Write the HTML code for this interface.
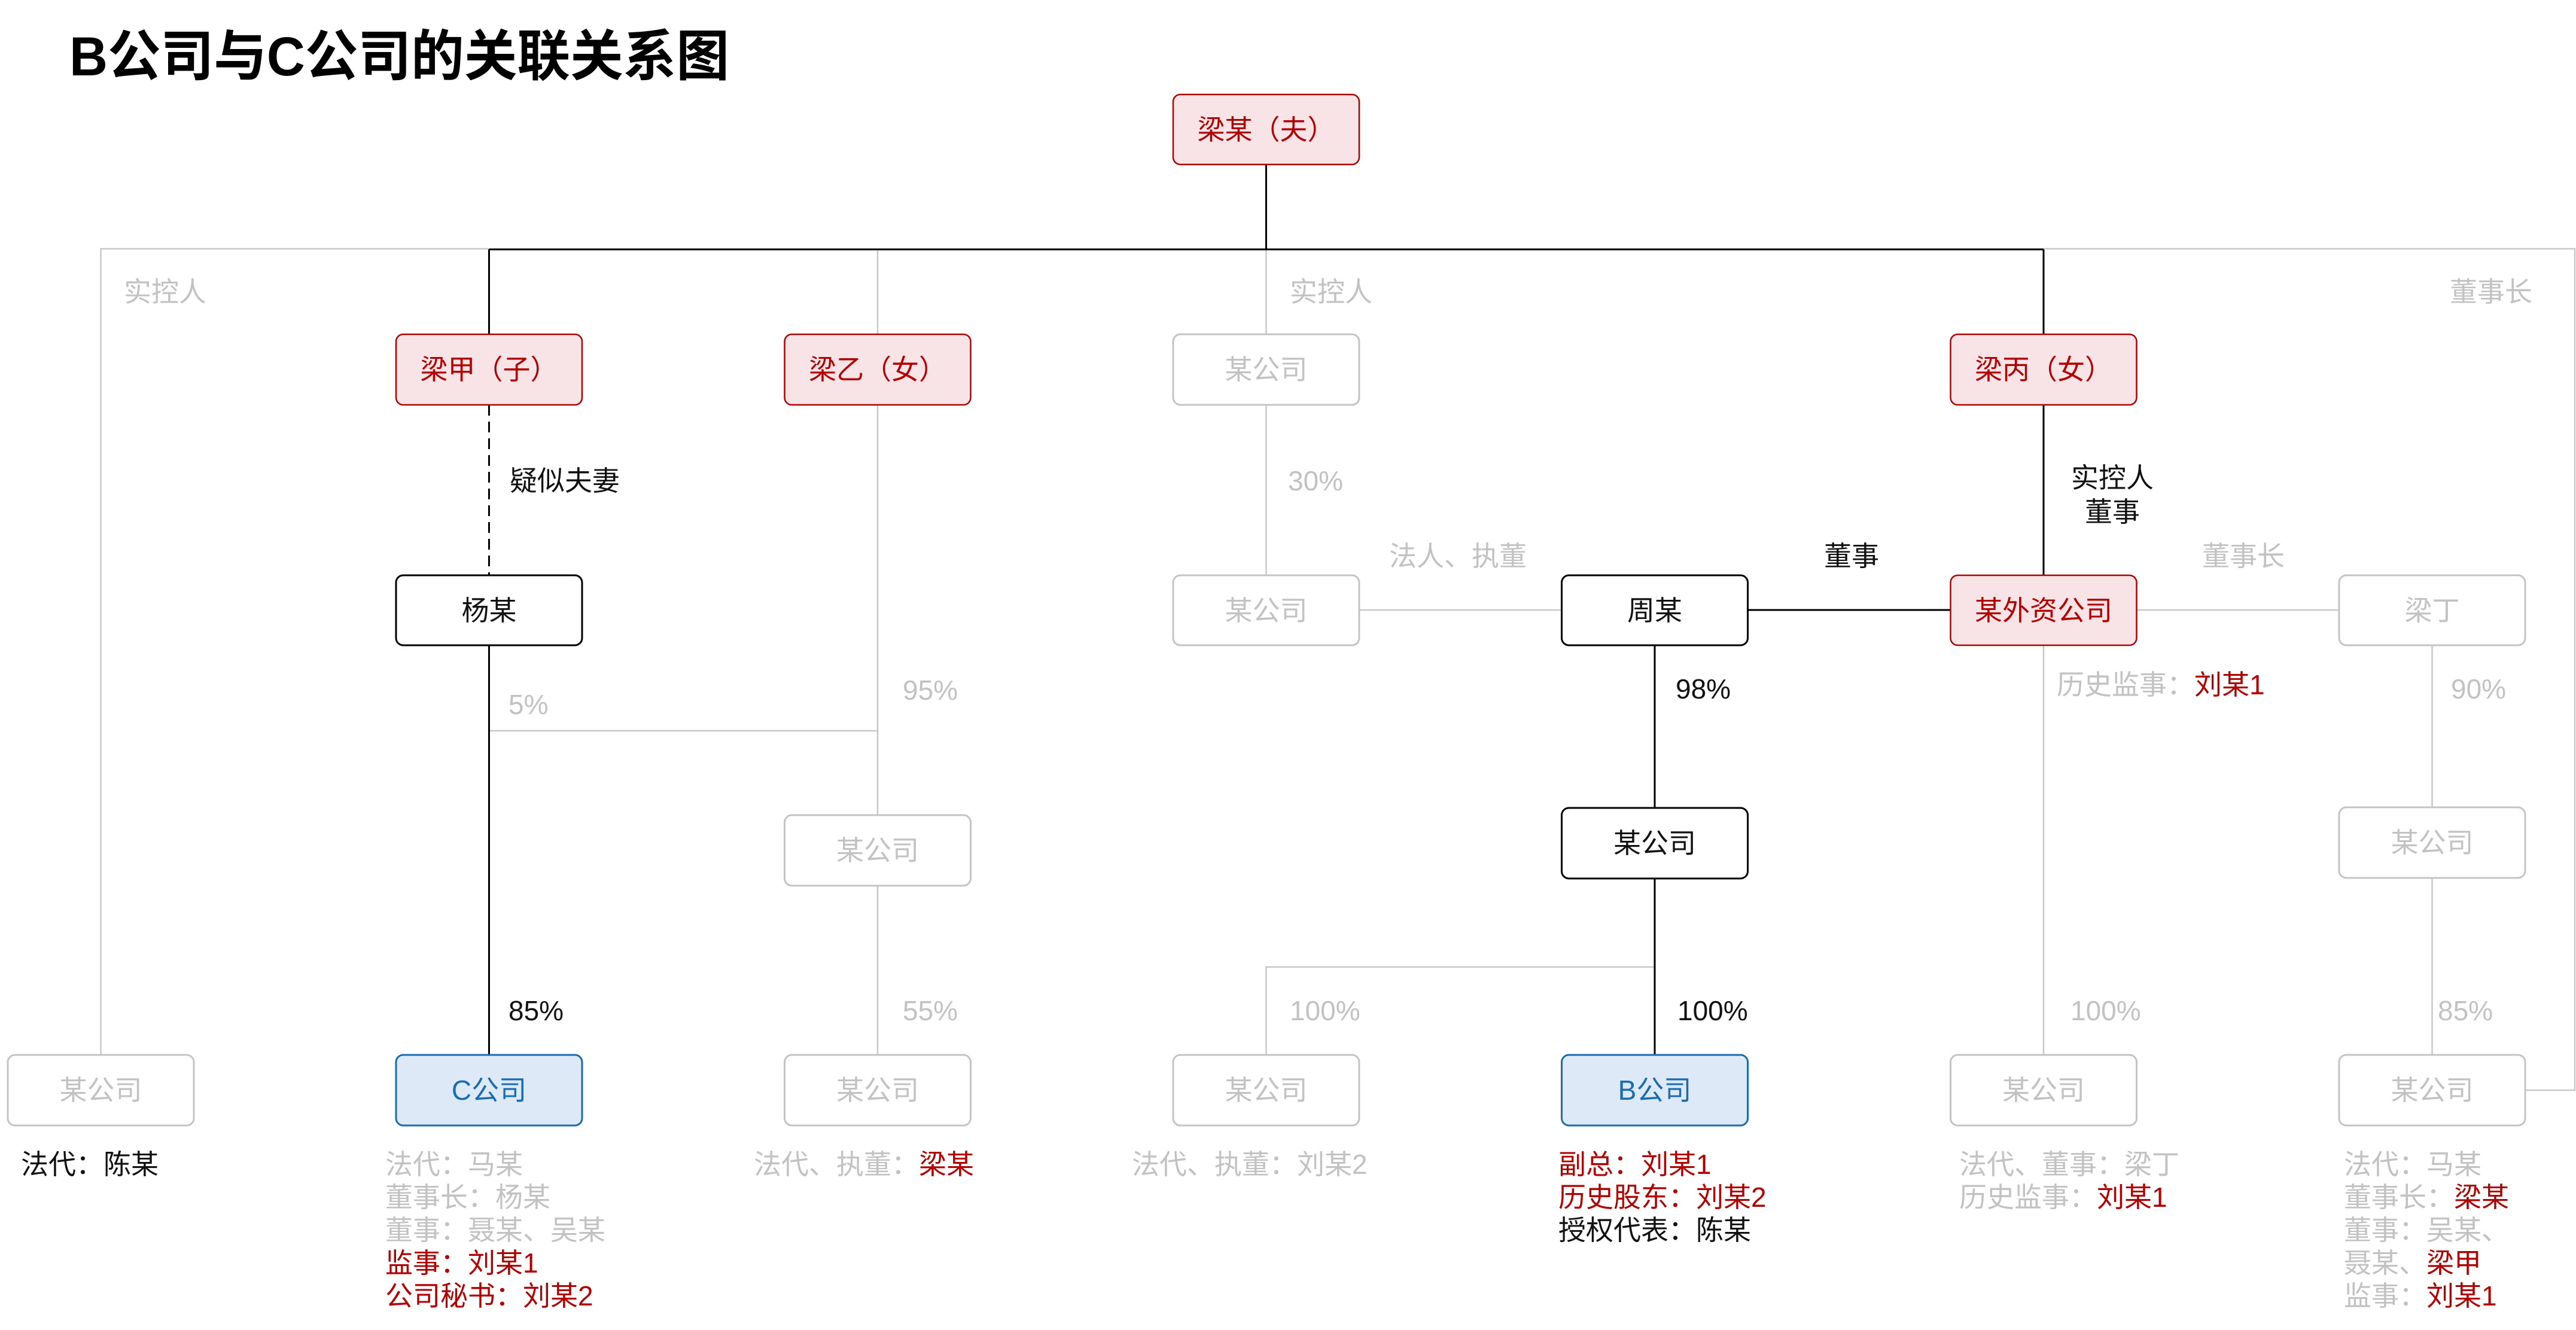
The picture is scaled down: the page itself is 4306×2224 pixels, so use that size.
<!DOCTYPE html>
<html><head><meta charset="utf-8">
<style>
html,body{margin:0;padding:0;background:#fff;}
svg{display:block;}
text{font-family:"Liberation Sans","Noto Sans CJK SC",sans-serif;font-size:46px;}
.t{font-weight:bold;font-size:92px;fill:#000;}
.g{fill:#c2c2c2;}
.k{fill:#111;}
.r{fill:#b00000;}
.b{fill:#1a6cb0;}
.lg{stroke:#c8c8c8;stroke-width:2.5;fill:none;}
.lk{stroke:#000;stroke-width:3;fill:none;}
.bx-g{fill:#fff;stroke:#c4c4c4;stroke-width:3;}
.bx-k{fill:#fff;stroke:#000;stroke-width:3;}
.bx-p{fill:#f8e4e6;stroke:#b00000;stroke-width:2.5;}
.bx-b{fill:#dde9f6;stroke:#1a6cb0;stroke-width:3;}
</style></head>
<body>
<svg width="4306" height="2224" viewBox="0 0 4306 2224" xmlns="http://www.w3.org/2000/svg">
<!-- title -->
<text class="t" x="116" y="126" textLength="1103" lengthAdjust="spacingAndGlyphs">B公司与C公司的关联关系图</text>

<!-- gray connectors -->
<path class="lg" d="M168.5,1764 V416 H817.5"/>
<path class="lg" d="M3416,416 H4304 V1823 H4221"/>
<path class="lg" d="M1467,417 V559"/>
<path class="lg" d="M1467,677 V1363"/>
<path class="lg" d="M1467,1481 V1764"/>
<path class="lg" d="M817.5,1222 H1467"/>
<path class="lg" d="M2116.5,417 V559"/>
<path class="lg" d="M2116.5,677 V962"/>
<path class="lg" d="M2272,1020 H2610"/>
<path class="lg" d="M2116.5,1764 V1617 H2766"/>
<path class="lg" d="M3572,1020 H3909"/>
<path class="lg" d="M3416,1079 V1764"/>
<path class="lg" d="M4065.5,1079 V1350"/>
<path class="lg" d="M4065.5,1468 V1764"/>

<!-- black connectors -->
<path class="lk" d="M2116.5,275 V417"/>
<path class="lk" d="M817.5,417 H3416"/>
<path class="lk" d="M817.5,417 V559"/>
<path class="lk" d="M3416,417 V559"/>
<path class="lk" d="M3416,677 V962"/>
<path class="lk" d="M817.5,677 V962" stroke-dasharray="18,10"/>
<path class="lk" d="M817.5,1079 V1764"/>
<path class="lk" d="M2922,1020 H3260"/>
<path class="lk" d="M2766,1079 V1351"/>
<path class="lk" d="M2766,1469 V1764"/>

<!-- boxes row0 -->
<rect class="bx-p" x="1961" y="158" width="311" height="117" rx="12"/>
<text class="r" x="2116.5" y="233" text-anchor="middle">梁某（夫）</text>

<!-- row1 -->
<rect class="bx-p" x="662" y="559" width="311" height="118" rx="12"/>
<text class="r" x="817.5" y="634" text-anchor="middle">梁甲（子）</text>
<rect class="bx-p" x="1311.5" y="559" width="311" height="118" rx="12"/>
<text class="r" x="1467" y="634" text-anchor="middle">梁乙（女）</text>
<rect class="bx-g" x="1961" y="559" width="311" height="118" rx="12"/>
<text class="g" x="2116.5" y="634" text-anchor="middle">某公司</text>
<rect class="bx-p" x="3260.5" y="559" width="311" height="118" rx="12"/>
<text class="r" x="3416" y="634" text-anchor="middle">梁丙（女）</text>

<!-- row2 -->
<rect class="bx-k" x="662" y="962" width="311" height="117" rx="12"/>
<text class="k" x="817.5" y="1037" text-anchor="middle">杨某</text>
<rect class="bx-g" x="1961" y="962" width="311" height="117" rx="12"/>
<text class="g" x="2116.5" y="1037" text-anchor="middle">某公司</text>
<rect class="bx-k" x="2610.5" y="962" width="311" height="117" rx="12"/>
<text class="k" x="2766" y="1037" text-anchor="middle">周某</text>
<rect class="bx-p" x="3260.5" y="962" width="311" height="117" rx="12"/>
<text class="r" x="3416" y="1037" text-anchor="middle">某外资公司</text>
<rect class="bx-g" x="3910" y="962" width="311" height="117" rx="12"/>
<text class="g" x="4065.5" y="1037" text-anchor="middle">梁丁</text>

<!-- row3 -->
<rect class="bx-g" x="1311.5" y="1363" width="311" height="118" rx="12"/>
<text class="g" x="1467" y="1438" text-anchor="middle">某公司</text>
<rect class="bx-k" x="2610.5" y="1351" width="311" height="118" rx="12"/>
<text class="k" x="2766" y="1426" text-anchor="middle">某公司</text>
<rect class="bx-g" x="3910" y="1350" width="311" height="118" rx="12"/>
<text class="g" x="4065.5" y="1425" text-anchor="middle">某公司</text>

<!-- row4 -->
<rect class="bx-g" x="13" y="1764" width="311" height="118" rx="12"/>
<text class="g" x="168.5" y="1839" text-anchor="middle">某公司</text>
<rect class="bx-b" x="662" y="1764" width="311" height="118" rx="12"/>
<text class="b" x="817.5" y="1839" text-anchor="middle">C公司</text>
<rect class="bx-g" x="1311.5" y="1764" width="311" height="118" rx="12"/>
<text class="g" x="1467" y="1839" text-anchor="middle">某公司</text>
<rect class="bx-g" x="1961" y="1764" width="311" height="118" rx="12"/>
<text class="g" x="2116.5" y="1839" text-anchor="middle">某公司</text>
<rect class="bx-b" x="2610.5" y="1764" width="311" height="118" rx="12"/>
<text class="b" x="2766" y="1839" text-anchor="middle">B公司</text>
<rect class="bx-g" x="3260.5" y="1764" width="311" height="118" rx="12"/>
<text class="g" x="3416" y="1839" text-anchor="middle">某公司</text>
<rect class="bx-g" x="3910" y="1764" width="311" height="118" rx="12"/>
<text class="g" x="4065.5" y="1839" text-anchor="middle">某公司</text>

<!-- connector labels -->
<text class="g" x="207" y="504">实控人</text>
<text class="g" x="2156" y="504">实控人</text>
<text class="g" x="4095" y="504">董事长</text>
<text class="k" x="852" y="820">疑似夫妻</text>
<text class="g" x="2153" y="820">30%</text>
<text class="k" x="3531" y="815" text-anchor="middle">实控人</text>
<text class="k" x="3531" y="872" text-anchor="middle">董事</text>
<text class="g" x="2437" y="946" text-anchor="middle">法人、执董</text>
<text class="k" x="3095" y="946" text-anchor="middle">董事</text>
<text class="g" x="3750" y="946" text-anchor="middle">董事长</text>
<text class="g" x="850" y="1194">5%</text>
<text class="g" x="1509" y="1170">95%</text>
<text class="k" x="2801" y="1168">98%</text>
<text class="g" x="4097" y="1168">90%</text>
<text x="3438" y="1161"><tspan class="g">历史监事：</tspan><tspan class="r">刘某1</tspan></text>
<text class="k" x="850" y="1706">85%</text>
<text class="g" x="1509" y="1706">55%</text>
<text class="g" x="2156" y="1706">100%</text>
<text class="k" x="2804" y="1706">100%</text>
<text class="g" x="3461" y="1706">100%</text>
<text class="g" x="4075" y="1706">85%</text>

<!-- annotations -->
<text class="k" x="35" y="1963">法代：陈某</text>

<text class="g" x="644" y="1963">法代：马某</text>
<text class="g" x="644" y="2018">董事长：杨某</text>
<text class="g" x="644" y="2073">董事：聂某、吴某</text>
<text class="r" x="644" y="2128">监事：刘某1</text>
<text class="r" x="644" y="2183">公司秘书：刘某2</text>

<text x="1260" y="1963"><tspan class="g">法代、执董：</tspan><tspan class="r">梁某</tspan></text>
<text class="g" x="1892" y="1963">法代、执董：刘某2</text>

<text class="r" x="2605" y="1963">副总：刘某1</text>
<text class="r" x="2605" y="2018">历史股东：刘某2</text>
<text class="k" x="2605" y="2073">授权代表：陈某</text>

<text class="g" x="3275" y="1963">法代、董事：梁丁</text>
<text x="3275" y="2018"><tspan class="g">历史监事：</tspan><tspan class="r">刘某1</tspan></text>

<text class="g" x="3918" y="1963">法代：马某</text>
<text x="3918" y="2018"><tspan class="g">董事长：</tspan><tspan class="r">梁某</tspan></text>
<text class="g" x="3918" y="2073">董事：吴某、</text>
<text x="3918" y="2128"><tspan class="g">聂某、</tspan><tspan class="r">梁甲</tspan></text>
<text x="3918" y="2183"><tspan class="g">监事：</tspan><tspan class="r">刘某1</tspan></text>
</svg>
</body></html>
